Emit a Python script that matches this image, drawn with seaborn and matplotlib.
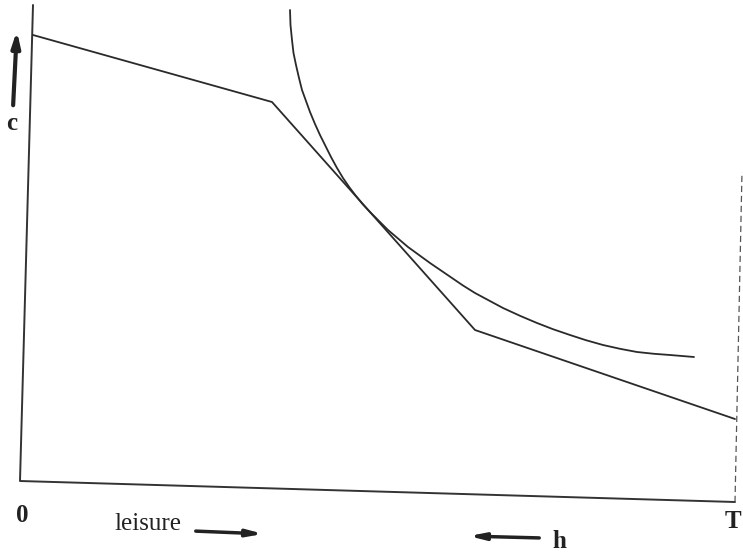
import numpy as np
import pandas as pd
import seaborn as sns
import matplotlib.pyplot as plt

# points (pixel-like units, y grows downward)
axis_x = [33, 20, 735]
axis_y = [5, 481, 502]

budget_x = [33, 272, 475, 735]
budget_y = [35, 102, 330, 419]

indiff_x = [290, 290.5, 292, 293.5, 296, 299, 302, 306, 310, 315, 320, 325.5, 331, 337, 343, 349.5,
            356, 363, 370, 379, 388, 398, 408, 419, 430, 441, 452, 463, 475, 489, 503, 520, 537,
            553, 570, 586, 603, 620, 637, 654, 670, 682, 694]
indiff_y = [10, 25, 40, 53, 65, 78, 90, 101, 112, 124, 135, 146, 157, 168, 178, 187.5,
            196, 204.5, 212, 221, 230, 238.5, 247, 255, 263, 270.5, 278, 285.5, 293, 300.5, 308, 315.8, 323,
            329.2, 335, 340.2, 345, 348.8, 352, 353.8, 355, 356, 357]

t_line_x = [735, 742]
t_line_y = [502, 172]

sns.set_style("white")
plt.rcParams['font.family'] = ['Liberation Serif', 'DejaVu Serif']

fig = plt.figure(figsize=(7.43, 5.55), dpi=100)
ax = fig.add_axes([0, 0, 1, 1])

budget = pd.DataFrame({'x': budget_x, 'y': budget_y})
indiff = pd.DataFrame({'x': indiff_x, 'y': indiff_y})
axes_df = pd.DataFrame({'x': axis_x, 'y': axis_y})

sns.lineplot(data=axes_df, x='x', y='y', sort=False, color='#333333', lw=1.4, ax=ax)
sns.lineplot(data=budget, x='x', y='y', sort=False, color='#2a2a2a', lw=1.3, ax=ax)
sns.lineplot(data=indiff, x='x', y='y', sort=False, color='#2a2a2a', lw=1.3, ax=ax)
ax.plot(t_line_x, t_line_y, color='#555555', lw=0.9, ls=(0, (5, 3)))

ax.set_xlim(0, 743)
ax.set_ylim(555, 0)
ax.axis('off')

# labels and arrows
txt = dict(color='#222222', fontsize=18)
ax.text(12, 123, 'c', ha='center', va='center', fontweight='bold', **txt)
ax.annotate('', xy=(17, 28), xytext=(13, 108),
            arrowprops=dict(arrowstyle='-|>,head_length=0.9,head_width=0.25', lw=3, color='#222222'))
ax.text(22, 516, '0', ha='center', va='center', fontweight='bold', **txt)
ax.text(148, 524, 'leisure', ha='center', va='center', **txt)
ax.annotate('', xy=(266, 534), xytext=(193, 531),
            arrowprops=dict(arrowstyle='-|>,head_length=0.9,head_width=0.2', lw=2.5, color='#222222'))
ax.annotate('', xy=(466, 536), xytext=(542, 538),
            arrowprops=dict(arrowstyle='-|>,head_length=0.9,head_width=0.2', lw=2.5, color='#222222'))
ax.text(559, 541, 'h', ha='center', va='center', fontweight='bold', **txt)
ax.text(733, 522, 'T', ha='center', va='center', fontweight='bold', **txt)

fig.savefig('out.png', dpi=100)
